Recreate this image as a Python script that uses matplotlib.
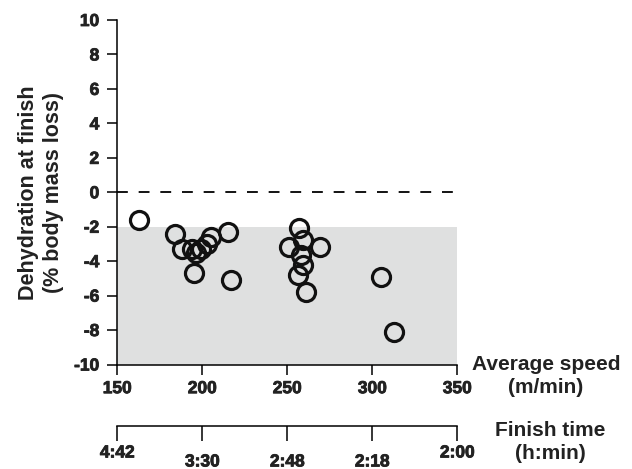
import numpy as np
import matplotlib
matplotlib.use("Agg")
import matplotlib.pyplot as plt
import matplotlib.patheffects as pe
from matplotlib.transforms import ScaledTranslation

plt.rcParams['font.family'] = ['Liberation Sans', 'DejaVu Sans']
plt.rcParams['font.weight'] = 'bold'
plt.rcParams['axes.unicode_minus'] = False

# data
speed = [163, 184, 188, 194, 196, 199, 203, 205, 195, 215, 217,
         257, 251, 259, 269, 258, 259, 256, 261, 305, 313]
dehydration = [-1.6, -2.4, -3.3, -3.3, -3.55, -3.3, -3.0, -2.6, -4.7, -2.3, -5.1,
               -2.1, -3.2, -2.8, -3.2, -3.65, -4.25, -4.8, -5.8, -4.9, -8.1]

speed_ticks = [150, 200, 250, 300, 350]
time_labels = ["4:42", "3:30", "2:48", "2:18", "2:00"]
y_ticks = [10, 8, 6, 4, 2, 0, -2, -4, -6, -8, -10]

heavy = [pe.withStroke(linewidth=0.6, foreground='#222222')]

fig = plt.figure(figsize=(6.32, 4.69), dpi=100)
W, H = 632, 469
ax = fig.add_axes([117.3 / W, 1 - 364.5 / H, 340 / W, 344.5 / H])

ax.axhspan(-10, -2, xmin=0, xmax=1, color='#dfe0e0', lw=0, zorder=0)
ax.plot([150, 350], [0, 0], color='black', lw=1.3, linestyle=(0, (6, 6)))
ax.plot(speed, dehydration, 'o', mfc='none', mec='#111111', ms=13, mew=2.3,
        zorder=3)

ax.set_xlim(150, 350)
ax.set_ylim(-10, 10)
ax.set_xticks(speed_ticks)
ax.set_yticks(y_ticks)
for s in ['top', 'right']:
    ax.spines[s].set_visible(False)
for s in ['left', 'bottom']:
    ax.spines[s].set_linewidth(1.1)
ax.tick_params(axis='both', width=1.1, length=7, labelsize=12.5,
               labelcolor='#222222')
ax.tick_params(axis='x', pad=5)
ax.tick_params(axis='y', pad=6)
plt.setp(ax.get_xticklabels() + ax.get_yticklabels(), fontweight='bold',
         path_effects=heavy)
ax.set_ylabel("Dehydration at finish\n(% body mass loss)", fontsize=15.5,
              fontweight='bold', labelpad=7, linespacing=1.25, color='#222222')

fig.text(546 / W, 1 - 376 / H, "Average speed\n(m/min)", ha='center',
         va='center', fontsize=15, fontweight='bold', linespacing=1.25,
         color='#222222')

# finish time axis
ax2 = fig.add_axes([117.3 / W, 1 - 426 / H, 340 / W, 0.001])
ax2.set_xlim(150, 350)
ax2.set_yticks([])
for s in ['top', 'right', 'left']:
    ax2.spines[s].set_visible(False)
ax2.spines['bottom'].set_linewidth(1.1)
ax2.patch.set_visible(False)
ax2.set_xticks(speed_ticks)
ax2.set_xticklabels(time_labels, fontweight='bold')
ax2.tick_params(axis='x', width=1.1, length=11, direction='out',
                labelsize=12.5, pad=3, labelcolor='#222222')
for i, lab in enumerate(ax2.get_xticklabels()):
    lab.set_path_effects(heavy)
    if 0 < i < len(time_labels) - 1:
        lab.set_transform(lab.get_transform() +
                          ScaledTranslation(0, -9 / 100, fig.dpi_scale_trans))

fig.text(550 / W, 1 - 442 / H, "Finish time\n(h:min)", ha='center',
         va='center', fontsize=15, fontweight='bold', linespacing=1.25,
         color='#222222')

fig.savefig("out.png", dpi=100)
